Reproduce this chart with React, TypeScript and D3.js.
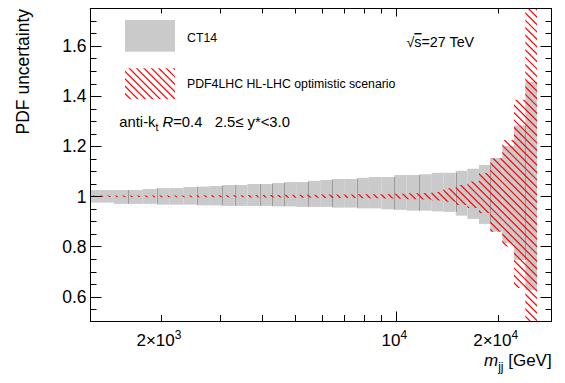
import React from 'react';
import * as d3 from 'd3';

// ---- data ----
const binEdges = [1180, 1310, 1450, 1600, 1760, 1940, 2120, 2330, 2550, 2780, 3040, 3310, 3610, 3930, 4270, 4640, 5040, 5470, 5940, 6440, 7000, 7630, 8290, 9040, 9860, 10730, 11700, 12740, 13790, 15010, 16250, 17600, 19010, 20640, 22360, 24150, 26170];
const ct14Up = [0.025, 0.025, 0.025, 0.025, 0.029, 0.033, 0.033, 0.037, 0.039, 0.041, 0.045, 0.045, 0.049, 0.049, 0.053, 0.057, 0.057, 0.062, 0.065, 0.069, 0.069, 0.074, 0.077, 0.077, 0.085, 0.085, 0.088, 0.094, 0.094, 0.102, 0.110, 0.125, 0.153, 0.201, 0.283, 0.457];
const ct14Down = [0.025, 0.025, 0.030, 0.030, 0.030, 0.033, 0.033, 0.033, 0.036, 0.036, 0.038, 0.038, 0.038, 0.038, 0.040, 0.040, 0.042, 0.042, 0.042, 0.045, 0.045, 0.048, 0.048, 0.052, 0.054, 0.057, 0.057, 0.060, 0.062, 0.077, 0.090, 0.110, 0.141, 0.187, 0.254, 0.374];
const pdf4lhcUp = [0.003, 0.003, 0.003, 0.003, 0.0035, 0.0035, 0.0035, 0.0035, 0.004, 0.004, 0.004, 0.004, 0.005, 0.005, 0.005, 0.006, 0.006, 0.006, 0.007, 0.007, 0.007, 0.008, 0.008, 0.009, 0.010, 0.012, 0.013, 0.017, 0.032, 0.045, 0.059, 0.093, 0.152, 0.225, 0.385, 0.900];
const pdf4lhcDown = [0.003, 0.003, 0.003, 0.003, 0.0035, 0.0035, 0.0035, 0.0035, 0.004, 0.004, 0.004, 0.004, 0.005, 0.005, 0.005, 0.006, 0.006, 0.006, 0.007, 0.007, 0.007, 0.008, 0.008, 0.009, 0.010, 0.012, 0.013, 0.017, 0.022, 0.035, 0.047, 0.066, 0.141, 0.200, 0.366, 0.600];
const seamEdges = [1600, 1940, 2550, 3040, 3310, 3930, 4270, 4640, 5470, 6440, 7630, 9860, 11700, 15010, 19010, 24150];

const yMajorTicks = [0.6, 0.8, 1.0, 1.2, 1.4, 1.6];
const yTickLabels = ['0.6', '0.8', '1', '1.2', '1.4', '1.6'];
const xMajorTicks = [10000];
const xMinorTicks = [2000, 3000, 4000, 5000, 6000, 7000, 8000, 9000, 20000];
const xLabelValues = [2000, 10000, 20000];
const xLabelMantissa = ['2×10', '10', '2×10'];
const xLabelExponent = ['3', '4', '4'];

const legendLabels = ['CT14', 'PDF4LHC HL-LHC optimistic scenario'];

const W = 565;
const H = 383;
const L = 90.5, R = 551.5, T = 8.5, B = 321.5;
const FONT = "'Liberation Sans', Arial, Helvetica, sans-serif";
const HATCH = 7.4;

export default function App() {
  const x = d3.scaleLog().domain([1231, 28930]).range([90, 551.7]);
  const y = d3.scaleLinear().domain([0.5, 1.75]).range([321.7, 8.3]);

  const bins = d3.range(binEdges.length - 1).map((i) => ({
    x0: x(binEdges[i]),
    x1: x(binEdges[i + 1]),
    ctTop: y(1 + ct14Up[i]),
    ctBot: y(1 - ct14Down[i]),
    pTop: y(1 + pdf4lhcUp[i]),
    pBot: y(1 - pdf4lhcDown[i]),
  }));

  const seams = seamEdges.map((e) => {
    const i = binEdges.indexOf(e);
    const a = bins[i - 1], b = bins[i];
    return { x: Math.round(x(e)) + 0.5, top: Math.max(a.ctTop, b.ctTop), bot: Math.min(a.ctBot, b.ctBot) };
  });

  const hatchLines: string[] = [];
  for (let c = -H; c < W + H; c += HATCH) {
    hatchLines.push(`M${c},0L${c + H},${H}`);
  }
  const hatchPath = hatchLines.join('');

  const yMinor = d3.range(0.5, 1.7501, 0.05).filter((v) => !yMajorTicks.some((m) => Math.abs(m - v) < 1e-6) && v > 0.501 && v < 1.749);

  const ticks: string[] = [];
  yMajorTicks.forEach((v) => {
    const py = Math.round(y(v)) + 0.5;
    ticks.push(`M${L},${py}h11`, `M${R},${py}h-11`);
  });
  yMinor.forEach((v) => {
    const py = Math.round(y(v)) + 0.5;
    ticks.push(`M${L},${py}h6`, `M${R},${py}h-6`);
  });
  xMajorTicks.forEach((v) => {
    const px = Math.round(x(v)) + 0.5;
    ticks.push(`M${px},${B}v-10`, `M${px},${T}v8`);
  });
  xMinorTicks.forEach((v) => {
    const px = Math.round(x(v)) + 0.5;
    ticks.push(`M${px},${B}v-6.5`, `M${px},${T}v5`);
  });

  return (
    <svg width={W} height={H} style={{ position: 'absolute', left: 0, top: 0, background: '#fff' }} fontFamily={FONT}>
      <defs>
        <clipPath id="plotClip">
          <rect x={L} y={T} width={R - L} height={B - T} />
        </clipPath>
        <clipPath id="pdfClip">
          {bins.map((b, i) => (
            <rect key={i} x={b.x0} y={b.pTop} width={b.x1 - b.x0} height={b.pBot - b.pTop} />
          ))}
        </clipPath>
        <clipPath id="legendClip">
          <rect x={125} y={68.3} width={50} height={31} />
        </clipPath>
      </defs>
      <rect x={0} y={0} width={W} height={H} fill="#fff" />

      <g clipPath="url(#plotClip)">
        {bins.map((b, i) => (
          <rect key={i} x={b.x0} y={b.ctTop} width={b.x1 - b.x0} height={b.ctBot - b.ctTop} fill="#cacaca" />
        ))}
        {seams.map((s, i) => (
          <line key={i} x1={s.x} x2={s.x} y1={s.top} y2={s.bot} stroke="#9a9a9a" strokeWidth={1} />
        ))}
        <g clipPath="url(#pdfClip)">
          <path d={hatchPath} stroke="#ff0000" strokeWidth={1.2} fill="none" />
        </g>
      </g>

      <rect x={L} y={T} width={R - L} height={B - T} fill="none" stroke="#000" strokeWidth={1} />
      <path d={ticks.join('')} stroke="#000" strokeWidth={1} fill="none" />

      {yMajorTicks.map((v, i) => (
        <text key={i} x={86.5} y={y(v)} dy="0.36em" textAnchor="end" fontSize={17.5} fill="#000">
          {yTickLabels[i]}
        </text>
      ))}
      {xLabelValues.map((v, i) => (
        <text key={i} x={x(v) - 2} y={346} textAnchor="middle" fontSize={17} fill="#000">
          {xLabelMantissa[i]}
          <tspan dy={-7.5} fontSize={12}>{xLabelExponent[i]}</tspan>
        </text>
      ))}

      <text transform="translate(28.5,9) rotate(-90)" textAnchor="end" fontSize={17.5} fill="#000">
        PDF uncertainty
      </text>
      <text x={551.7} y={366} textAnchor="end" fontSize={17} fill="#000">
        <tspan fontStyle="italic">m</tspan>
        <tspan dy={5} fontSize={12}>jj</tspan>
        <tspan dy={-5}> [GeV]</tspan>
      </text>

      {/* legend */}
      <rect x={125} y={20} width={50} height={31.7} fill="#cacaca" />
      <g clipPath="url(#legendClip)">
        <path d={hatchPath} stroke="#ff0000" strokeWidth={1.2} fill="none" />
      </g>
      <text x={187} y={41.5} fontSize={12.3} fill="#000">{legendLabels[0]}</text>
      <text x={187} y={87.5} fontSize={12.3} fill="#000">{legendLabels[1]}</text>

      <text x={406.5} y={47} fontSize={14.3} fill="#000">
        √<tspan textDecoration="overline">s</tspan>=27 TeV
      </text>

      <text x={119.3} y={127} fontSize={14.8} fill="#000" style={{ whiteSpace: 'pre' }}>
        anti-k<tspan dy={4} fontSize={10.5}>t</tspan>
        <tspan dy={-4}> </tspan>
        <tspan fontStyle="italic">R</tspan>
        <tspan>=0.4   2.5≤ y*&lt;3.0</tspan>
      </text>
    </svg>
  );
}
